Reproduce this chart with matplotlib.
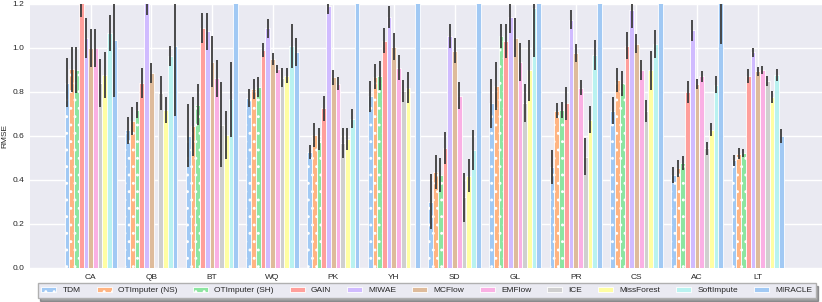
import numpy as np
import matplotlib
matplotlib.use("Agg")
import matplotlib.pyplot as plt

datasets = ["CA", "QB", "BT", "WQ", "PK", "YH", "SD", "GL", "PR", "CS", "AC", "LT"]
methods = ["TDM", "OTImputer (NS)", "OTImputer (SH)", "GAIN", "MIWAE", "MCFlow",
           "EMFlow", "ICE", "MissForest", "SoftImpute", "MIRACLE"]
nan = np.nan

# mean RMSE per method (rows) and dataset (columns)
tdm      = [0.842, 0.626, 0.602, 0.773, 0.527, 0.780, 0.302, 0.748, 0.458, 0.715, 0.423, 0.489]
ot_ns    = [0.904, 0.669, 0.644, 0.814, 0.606, 0.869, 0.436, 0.827, 0.714, 0.855, 0.453, 0.519]
ot_sh    = [0.900, 0.720, 0.743, 0.823, 0.587, 0.875, 0.424, 1.054, 0.720, 0.839, 0.477, 0.523]
gain     = [1.240, 0.839, 1.091, 0.989, 0.726, 1.034, 0.545, 1.031, 0.748, 1.011, 0.801, 0.873]
miwae    = [1.044, 1.210, 1.076, 1.089, 1.190, 1.140, 1.055, 1.140, 1.129, 1.175, 1.080, 0.980]
mcflow   = [1.000, 0.885, 0.938, 0.949, 0.866, 1.006, 0.987, 1.046, 0.977, 1.019, 0.835, 0.894]
emflow   = [1.000, nan,   0.862, 0.905, 0.838, 0.911, 0.783, 0.936, 0.820, 0.900, 0.872, 0.900]
ice      = [0.839, 0.795, 0.652, 0.864, 0.568, 0.805, 0.322, 0.751, 0.506, 0.714, 0.544, 0.850]
missf    = [0.876, 0.718, 0.605, 0.873, 0.586, 0.820, 0.420, 0.898, 0.674, 0.898, 0.629, 0.777]
softimp  = [1.069, 0.965, 0.767, 1.008, 0.678, nan,   0.536, 1.180, 0.968, 1.017, 0.833, 0.877]
miracle  = [1.036, 1.009, 1.600, 0.980, 1.600, 1.600, 1.600, 1.600, 1.600, 1.600, 1.260, 0.600]

# error-bar half widths
tdm_e    = [0.111, 0.062, 0.142, 0.039, 0.033, 0.070, 0.126, 0.110, 0.078, 0.061, 0.038, 0.025]
ot_ns_e  = [0.102, 0.064, 0.135, 0.044, 0.055, 0.057, 0.078, 0.109, 0.034, 0.053, 0.038, 0.025]
ot_sh_e  = [0.106, 0.036, 0.093, 0.044, 0.051, 0.066, 0.077, 0.055, 0.036, 0.058, 0.032, 0.020]
gain_e   = [0.100, 0.068, 0.070, 0.032, 0.056, 0.055, 0.074, 0.078, 0.073, 0.063, 0.049, 0.031]
miwae_e  = [0.091, 0.060, 0.085, 0.045, 0.035, 0.051, 0.054, 0.070, 0.044, 0.085, 0.047, 0.022]
mcflow_e = [0.085, 0.045, 0.117, 0.027, 0.034, 0.061, 0.057, 0.089, 0.039, 0.043, 0.023, 0.021]
emflow_e = [0.085, nan,   0.083, 0.017, 0.029, 0.057, 0.061, 0.085, 0.034, 0.045, 0.025, 0.018]
ice_e    = [0.109, 0.077, 0.192, 0.043, 0.070, 0.049, 0.111, 0.086, 0.083, 0.049, 0.030, 0.023]
missf_e  = [0.105, 0.061, 0.110, 0.034, 0.049, 0.072, 0.076, 0.138, 0.062, 0.089, 0.029, 0.028]
softimp_e= [0.081, 0.045, 0.170, 0.100, 0.043, nan,   0.091, 0.220, 0.068, 0.064, 0.039, 0.027]
miracle_e= [0.260, 0.320, 0.200, 0.064, 0.200, 0.200, 0.200, 0.200, 0.200, 0.200, 0.240, 0.033]

means = [tdm, ot_ns, ot_sh, gain, miwae, mcflow, emflow, ice, missf, softimp, miracle]
errs = [tdm_e, ot_ns_e, ot_sh_e, gain_e, miwae_e, mcflow_e, emflow_e, ice_e, missf_e, softimp_e, miracle_e]

colors = ["#a1c9f4", "#ffb482", "#8de5a1", "#ff9f9b", "#d0bbff", "#debb9b",
          "#fab0e4", "#cfcfcf", "#fffea3", "#b9f2f0", "#a1c9f4"]
hatches = ["..", "..", "..", None, None, None, None, None, None, None, None]

plt.rcParams["font.family"] = ["Liberation Sans", "DejaVu Sans"]
plt.rcParams["hatch.linewidth"] = 0.9

FS = 6.0
fig = plt.figure(figsize=(8.22, 3.02), dpi=100)
ax = fig.add_axes([30/822, 1-268/302, 1-30/822, (268-4)/302])
ax.set_facecolor("#eaeaf2")
ax.grid(True, color="white", linewidth=1.0)
ax.set_axisbelow(True)
for s in ax.spines.values():
    s.set_visible(False)

x = np.arange(len(datasets))
n = len(methods)
group_w = 0.86
bw = group_w / n
for i, (m, e) in enumerate(zip(means, errs)):
    pos = x - group_w/2 + bw*(i + 0.5)
    ax.bar(pos, m, width=bw, color=colors[i], edgecolor="white",
           linewidth=0.6, hatch=hatches[i], label=methods[i], zorder=2)
    m_arr = np.array(m, dtype=float)
    e_arr = np.array(e, dtype=float)
    for p, mv, ev in zip(pos, m_arr, e_arr):
        if np.isnan(mv):
            continue
        ax.plot([p, p], [mv-ev, mv+ev], color="#3d3d3d", lw=1.3, zorder=3,
                solid_capstyle="butt")

ax.set_xlim(-1.0, 12.06)
ax.set_ylim(0, 1.2)
ax.set_xticks(x)
ax.set_xticklabels(datasets)
ax.set_yticks([0.0, 0.2, 0.4, 0.6, 0.8, 1.0, 1.2])
ax.set_yticklabels(["0.0", "0.2", "0.4", "0.6", "0.8", "1.0", "1.2"])
ax.tick_params(axis="both", length=0, labelsize=FS, colors="#262626", pad=4)
ax.set_ylabel("RMSE", fontsize=FS, color="#262626", labelpad=3)

leg = fig.legend(loc="upper center", bbox_to_anchor=(0.519, 1-283/302), ncol=11,
                 fontsize=FS, frameon=True, facecolor="#eaeaf2", edgecolor="#b0b0b0",
                 shadow=True, handlelength=1.8, handleheight=0.55, columnspacing=1.9,
                 handletextpad=0.75, borderpad=0.45, borderaxespad=0.0, fancybox=False)
for t in leg.get_texts():
    t.set_color("#262626")

fig.savefig("out.png", dpi=100)
